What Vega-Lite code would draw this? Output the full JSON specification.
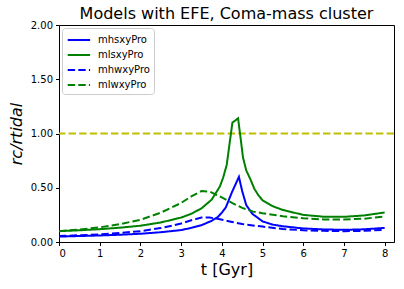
{
  "$schema": "https://vega.github.io/schema/vega-lite/v6.json",
  "width": 335,
  "height": 217,
  "autosize": "none",
  "padding": {"left": 59, "top": 25, "right": 10, "bottom": 47},
  "background": "white",
  "config": {
    "font": "DejaVu Sans",
    "view": {"stroke": "black", "strokeWidth": 1},
    "axis": {"grid": false, "domainColor": "black", "tickColor": "black", "labelColor": "black", "titleColor": "black", "labelFont": "DejaVu Sans", "titleFont": "DejaVu Sans", "labelFontSize": 10, "tickSize": 3.5, "labelPadding": 3, "titleFontWeight": "normal", "titleFontSize": 16}
  },
  "title": {"text": "Models with EFE, Coma-mass cluster", "fontSize": 16, "font": "DejaVu Sans", "fontWeight": "normal", "color": "black", "offset": -2},
  "datasets": {
    "curves": [
      {"t": 0, "v": 0.05, "s": "mhsxyPro"},
      {"t": 0.5, "v": 0.055, "s": "mhsxyPro"},
      {"t": 1, "v": 0.06, "s": "mhsxyPro"},
      {"t": 1.5, "v": 0.067, "s": "mhsxyPro"},
      {"t": 2, "v": 0.076, "s": "mhsxyPro"},
      {"t": 2.5, "v": 0.09, "s": "mhsxyPro"},
      {"t": 3, "v": 0.11, "s": "mhsxyPro"},
      {"t": 3.25, "v": 0.13, "s": "mhsxyPro"},
      {"t": 3.5, "v": 0.155, "s": "mhsxyPro"},
      {"t": 3.75, "v": 0.195, "s": "mhsxyPro"},
      {"t": 3.9, "v": 0.23, "s": "mhsxyPro"},
      {"t": 4.0, "v": 0.27, "s": "mhsxyPro"},
      {"t": 4.1, "v": 0.32, "s": "mhsxyPro"},
      {"t": 4.25, "v": 0.46, "s": "mhsxyPro"},
      {"t": 4.42, "v": 0.6, "s": "mhsxyPro"},
      {"t": 4.5, "v": 0.47, "s": "mhsxyPro"},
      {"t": 4.6, "v": 0.34, "s": "mhsxyPro"},
      {"t": 4.75, "v": 0.26, "s": "mhsxyPro"},
      {"t": 5.0, "v": 0.19, "s": "mhsxyPro"},
      {"t": 5.25, "v": 0.16, "s": "mhsxyPro"},
      {"t": 5.5, "v": 0.145, "s": "mhsxyPro"},
      {"t": 6.0, "v": 0.125, "s": "mhsxyPro"},
      {"t": 6.5, "v": 0.116, "s": "mhsxyPro"},
      {"t": 7.0, "v": 0.112, "s": "mhsxyPro"},
      {"t": 7.5, "v": 0.117, "s": "mhsxyPro"},
      {"t": 8.0, "v": 0.13, "s": "mhsxyPro"},

      {"t": 0, "v": 0.1, "s": "mlsxyPro"},
      {"t": 0.5, "v": 0.108, "s": "mlsxyPro"},
      {"t": 1, "v": 0.118, "s": "mlsxyPro"},
      {"t": 1.5, "v": 0.132, "s": "mlsxyPro"},
      {"t": 2, "v": 0.15, "s": "mlsxyPro"},
      {"t": 2.5, "v": 0.18, "s": "mlsxyPro"},
      {"t": 3, "v": 0.225, "s": "mlsxyPro"},
      {"t": 3.25, "v": 0.26, "s": "mlsxyPro"},
      {"t": 3.5, "v": 0.31, "s": "mlsxyPro"},
      {"t": 3.75, "v": 0.39, "s": "mlsxyPro"},
      {"t": 3.95, "v": 0.51, "s": "mlsxyPro"},
      {"t": 4.03, "v": 0.59, "s": "mlsxyPro"},
      {"t": 4.12, "v": 0.71, "s": "mlsxyPro"},
      {"t": 4.26, "v": 1.1, "s": "mlsxyPro"},
      {"t": 4.4, "v": 1.14, "s": "mlsxyPro"},
      {"t": 4.52, "v": 0.78, "s": "mlsxyPro"},
      {"t": 4.6, "v": 0.66, "s": "mlsxyPro"},
      {"t": 4.7, "v": 0.58, "s": "mlsxyPro"},
      {"t": 4.8, "v": 0.49, "s": "mlsxyPro"},
      {"t": 4.9, "v": 0.43, "s": "mlsxyPro"},
      {"t": 5.0, "v": 0.385, "s": "mlsxyPro"},
      {"t": 5.25, "v": 0.33, "s": "mlsxyPro"},
      {"t": 5.5, "v": 0.295, "s": "mlsxyPro"},
      {"t": 6.0, "v": 0.25, "s": "mlsxyPro"},
      {"t": 6.5, "v": 0.233, "s": "mlsxyPro"},
      {"t": 7.0, "v": 0.232, "s": "mlsxyPro"},
      {"t": 7.5, "v": 0.245, "s": "mlsxyPro"},
      {"t": 8.0, "v": 0.272, "s": "mlsxyPro"},

      {"t": 0, "v": 0.055, "s": "mhwxyPro"},
      {"t": 0.5, "v": 0.062, "s": "mhwxyPro"},
      {"t": 1, "v": 0.07, "s": "mhwxyPro"},
      {"t": 1.5, "v": 0.083, "s": "mhwxyPro"},
      {"t": 2, "v": 0.1, "s": "mhwxyPro"},
      {"t": 2.5, "v": 0.128, "s": "mhwxyPro"},
      {"t": 3, "v": 0.17, "s": "mhwxyPro"},
      {"t": 3.25, "v": 0.2, "s": "mhwxyPro"},
      {"t": 3.5, "v": 0.225, "s": "mhwxyPro"},
      {"t": 3.7, "v": 0.225, "s": "mhwxyPro"},
      {"t": 3.95, "v": 0.21, "s": "mhwxyPro"},
      {"t": 4.25, "v": 0.185, "s": "mhwxyPro"},
      {"t": 4.5, "v": 0.165, "s": "mhwxyPro"},
      {"t": 5.0, "v": 0.142, "s": "mhwxyPro"},
      {"t": 5.5, "v": 0.12, "s": "mhwxyPro"},
      {"t": 6.0, "v": 0.108, "s": "mhwxyPro"},
      {"t": 6.5, "v": 0.103, "s": "mhwxyPro"},
      {"t": 7.0, "v": 0.1, "s": "mhwxyPro"},
      {"t": 7.5, "v": 0.103, "s": "mhwxyPro"},
      {"t": 8.0, "v": 0.112, "s": "mhwxyPro"},

      {"t": 0, "v": 0.1, "s": "mlwxyPro"},
      {"t": 0.5, "v": 0.115, "s": "mlwxyPro"},
      {"t": 1, "v": 0.135, "s": "mlwxyPro"},
      {"t": 1.5, "v": 0.165, "s": "mlwxyPro"},
      {"t": 2, "v": 0.205, "s": "mlwxyPro"},
      {"t": 2.5, "v": 0.27, "s": "mlwxyPro"},
      {"t": 3, "v": 0.36, "s": "mlwxyPro"},
      {"t": 3.25, "v": 0.42, "s": "mlwxyPro"},
      {"t": 3.5, "v": 0.47, "s": "mlwxyPro"},
      {"t": 3.7, "v": 0.465, "s": "mlwxyPro"},
      {"t": 3.95, "v": 0.42, "s": "mlwxyPro"},
      {"t": 4.25, "v": 0.36, "s": "mlwxyPro"},
      {"t": 4.5, "v": 0.315, "s": "mlwxyPro"},
      {"t": 4.77, "v": 0.28, "s": "mlwxyPro"},
      {"t": 5.0, "v": 0.265, "s": "mlwxyPro"},
      {"t": 5.5, "v": 0.237, "s": "mlwxyPro"},
      {"t": 6.0, "v": 0.218, "s": "mlwxyPro"},
      {"t": 6.5, "v": 0.208, "s": "mlwxyPro"},
      {"t": 7.0, "v": 0.207, "s": "mlwxyPro"},
      {"t": 7.5, "v": 0.215, "s": "mlwxyPro"},
      {"t": 8.0, "v": 0.235, "s": "mlwxyPro"}
    ]
  },
  "layer": [
    {
      "data": {"values": [{"ref": 1}]},
      "mark": {"type": "rule", "color": "#bfbf00", "strokeWidth": 2, "strokeDash": [7.4, 3.2]},
      "encoding": {"y": {"field": "ref", "type": "quantitative"}}
    },
    {
      "data": {"name": "curves"},
      "mark": {"type": "line", "strokeWidth": 2, "clip": true},
      "encoding": {
        "x": {"field": "t", "type": "quantitative", "scale": {"domain": [0, 8.23], "nice": false, "zero": false}, "axis": {"values": [0,1,2,3,4,5,6,7,8], "format": "d", "title": "t [Gyr]", "titlePadding": 3}},
        "y": {"field": "v", "type": "quantitative", "scale": {"domain": [0, 2], "nice": false}, "axis": {"values": [0,0.25,0.5,0.75,1,1.25,1.5,1.75,2], "format": ".2f", "title": "rc/rtidal", "titleFontStyle": "italic", "titlePadding": 6}},
        "color": {"field": "s", "type": "nominal", "scale": {"domain": ["mhsxyPro", "mlsxyPro", "mhwxyPro", "mlwxyPro"], "range": ["#0000ff", "#008000", "#0000ff", "#008000"]}, "legend": {"title": null, "orient": "top-left", "offset": 3, "strokeColor": "#cccccc", "fillColor": "white", "padding": 4, "cornerRadius": 3, "labelFontSize": 10, "labelFont": "DejaVu Sans", "symbolType": "M-0.9,0L2.3,0", "symbolSize": 196, "symbolStrokeWidth": 2, "rowPadding": 2, "labelOffset": 16}},
        "strokeDash": {"field": "s", "type": "nominal", "scale": {"domain": ["mhsxyPro", "mlsxyPro", "mhwxyPro", "mlwxyPro"], "range": [[1, 0], [1, 0], [7.4, 3.2], [7.4, 3.2]]}, "legend": {"title": null, "orient": "top-left"}}
      }
    }
  ]
}
